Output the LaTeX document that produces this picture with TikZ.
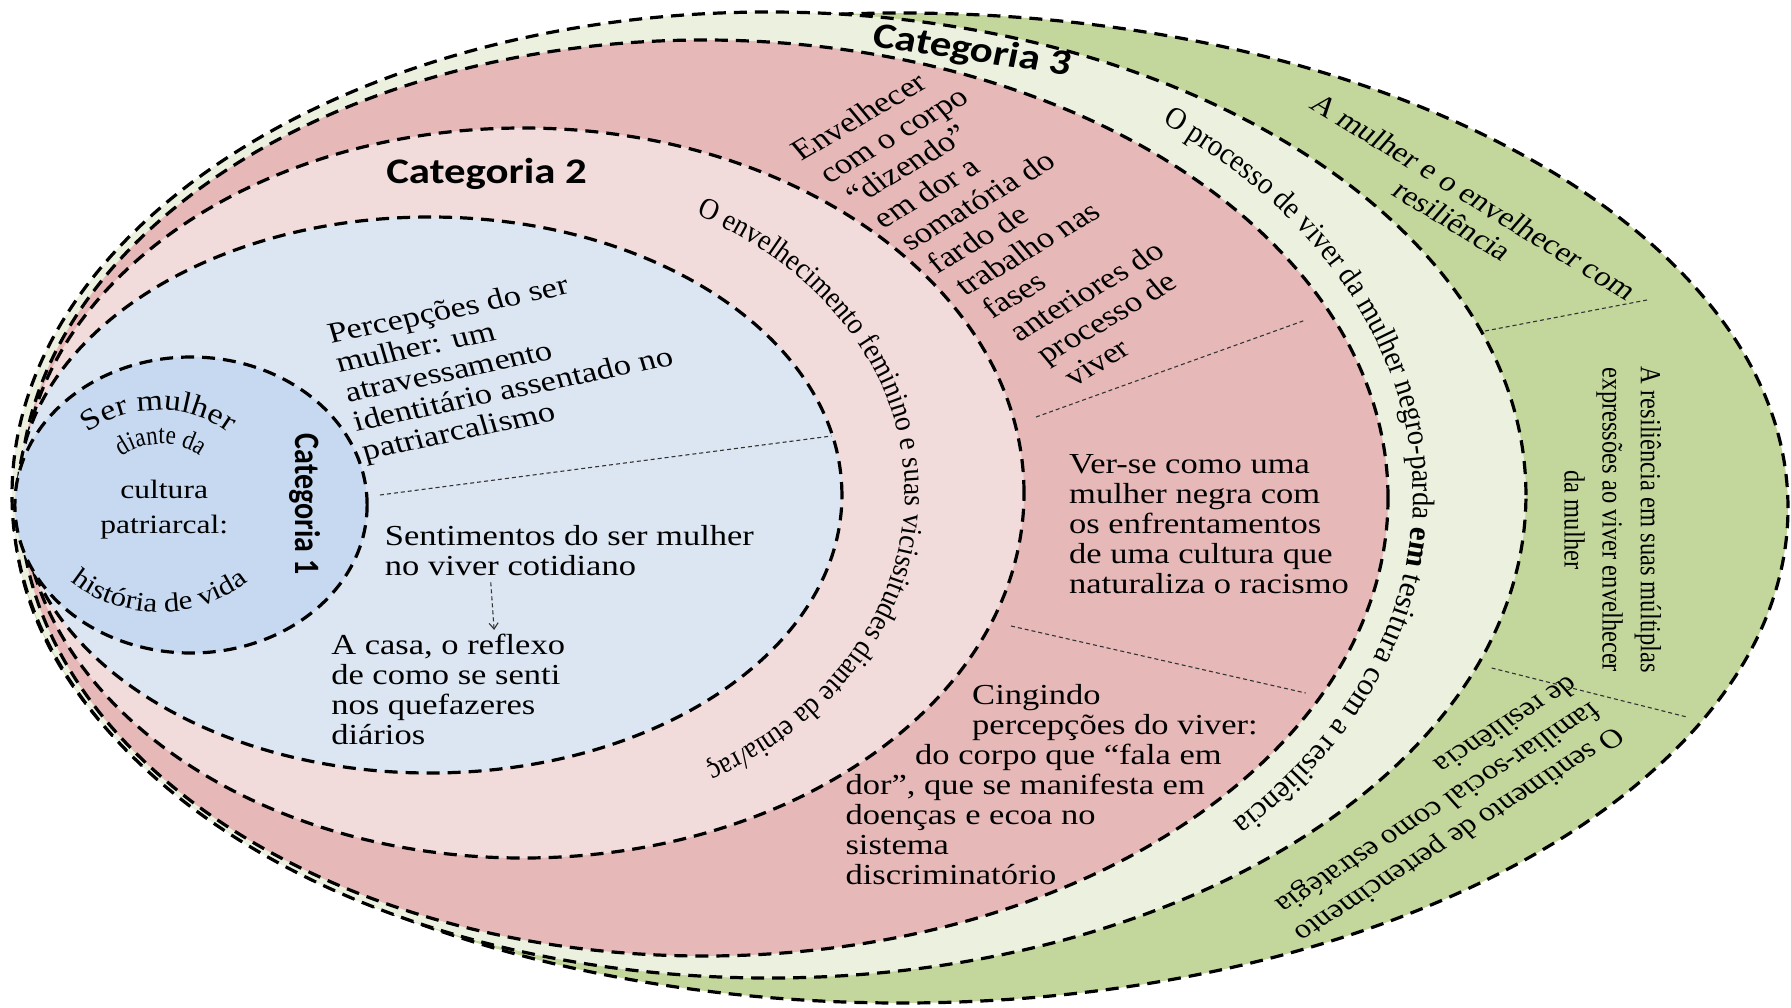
\documentclass[tikz,border=0pt]{standalone}
\usepackage{fontspec}
\setmainfont{Liberation Serif}
\newfontfamily\catf{Carlito}
\newfontfamily\widef[FakeStretch=1.15]{Liberation Serif}
\newfontfamily\narrowf[FakeStretch=0.85]{Liberation Serif}
\newfontfamily\bandf[FakeStretch=0.92]{Liberation Serif}
\usetikzlibrary{decorations.text,calc,arrows.meta}
\definecolor{cgreen}{HTML}{C3D69B}
\definecolor{clgreen}{HTML}{EBF1DE}
\definecolor{cdpink}{HTML}{E6B9B8}
\definecolor{clpink}{HTML}{F2DCDB}
\definecolor{clblue}{HTML}{DCE6F2}
\definecolor{cblue}{HTML}{C6D9F1}
\tikzset{
  bandline/.style={line width=3.2pt, dash pattern=on 13pt off 8pt, draw=black},
  sepline/.style={line width=1.1pt, dash pattern=on 4pt off 3pt, draw=black!80},
  bodytext/.style={font={\fontsize{29}{30}\selectfont}, text=black},
  cattext/.style={font={\catf\bfseries\fontsize{36}{36}\selectfont}, text=black},
}
\begin{document}
\begin{tikzpicture}[x=1pt, y=-1pt, xscale=1.19,
  every node/.append style={transform shape, inner sep=0pt}]
\useasboundingbox (0,0) rectangle (1505.04,1007);

% bands
\filldraw[bandline, fill=cgreen]  (757.1,508) ellipse [x radius=745.4pt, y radius=495pt];
\filldraw[bandline, fill=clgreen] (646.2,495) ellipse [x radius=636.1pt, y radius=483pt];
\filldraw[bandline, fill=cdpink]  (591.6,498) ellipse [x radius=574.8pt, y radius=458pt];
\filldraw[bandline, fill=clpink]  (439.5,493) ellipse [x radius=421pt, y radius=365pt];
\filldraw[bandline, fill=clblue]  (361.3,495) ellipse [x radius=346.2pt, y radius=278pt];
\filldraw[bandline, fill=cblue]   (160.5,505) ellipse [x radius=148pt, y radius=148pt];

% separators
\draw[sepline] (319.3,495) -- (698.7,436);
\draw[sepline] (870.6,417) -- (1097.2,320);
\draw[sepline] (849.6,626) -- (1097.2,693);
\draw[sepline] (1247.9,331) -- (1384,300);
\draw[sepline] (1253.5,668) -- (1417.6,717);

% category titles
\node[cattext] (cat2) at (408.9,173.6) {Categoria 2};
\node[cattext, rotate=-10] (cat3) at (816.8,51.4) {Categoria 3};
\node[cattext, font={\catf\bfseries\fontsize{30}{30}\selectfont}, rotate=-90] (cat1) at (256.3,504) {Categoria 1};

% category 1 circle texts
\node[align=center, font={\fontsize{26.5}{35}\selectfont}] (cult) at (138,509.5) {cultura\\patriarcal:};
\path[decorate, decoration={text along path, text align=center,
  text={|\widef\fontsize{29.5}{29.5}\selectfont|Ser mulher}}]
  (133,498) ++(145:88pt) arc[start angle=145, end angle=35, radius=88pt];
\path[decorate, decoration={text along path, text align=center,
  text={|\narrowf\fontsize{27}{27}\selectfont|diante da}}]
  (135,494) ++(155:50pt) arc[start angle=155, end angle=25, radius=50pt];
\path[decorate, decoration={text along path, text align=center,
  text={|\widef\fontsize{27}{27}\selectfont|história de vida}}]
  (134,505.75) ++(210:106.25pt) arc[start angle=210, end angle=330, radius=106.25pt];

% blue ellipse texts
\node[bodytext, align=left, rotate=14] (percep) at (424.6,362)
  {Percepções do ser\\mulher: um\\atravessamento\\identitário assentado no\\patriarcalismo};
\node[bodytext, align=left] (sent) at (478.5,551)
  {Sentimentos do ser mulher\\no viver cotidiano};
\node[bodytext, align=left] (acasa) at (376.6,689.5)
  {A casa, o reflexo\\de como se senti\\nos quefazeres\\diários};
\draw[sepline, -{Straight Barb[length=6pt,width=9pt]}]
  ($(sent.south west)+(89.1,6)$) -- ($(acasa.north west)+(137,-4)$);

% light pink band curved text
\path[decorate, decoration={text along path, text align=left,
  text={|\bandf\fontsize{30}{30}\selectfont|O envelhecimento feminino e suas vicissitudes diante da etnia/raç}}]
  (439.5,493) ++(63:321pt and 312pt) arc[start angle=63, end angle=-80, x radius=321pt, y radius=312pt];

% dark pink band texts
\node[bodytext, font={\fontsize{29}{31.6}\selectfont}, align=left, rotate=35, anchor=north west] (envel) at (662,145)
  {Envelhecer\\\hspace*{5.8pt}com o corpo\\\hspace*{11.6pt}“dizendo”\\\hspace*{17.4pt}em dor a\\\hspace*{23.2pt}somatória do\\\hspace*{29pt}fardo de\\\hspace*{34.8pt}trabalho nas\\\hspace*{40.6pt}fases\\\hspace*{46.4pt}anteriores do\\\hspace*{52.2pt}processo de\\\hspace*{58pt}viver};
\node[bodytext, align=left] (verse) at (1016,524)
  {Ver-se como uma\\mulher negra com\\os enfrentamentos\\de uma cultura que\\naturaliza o racismo};
\node[bodytext, align=left, anchor=west] (cing) at (710.3,785)
  {\hspace*{106.5pt}Cingindo\\\hspace*{106.5pt}percepções do viver:\\\hspace*{58.5pt}do corpo que “fala em\\dor”, que se manifesta em\\doenças e ecoa no\\sistema\\discriminatório};

% light green band curved text
\path[decorate, decoration={text along path, text align=left,
  text={|\bandf\fontsize{31}{31}\selectfont|O processo de viver da mulher negro-parda |\bfseries\fontsize{31}{31}\selectfont|em|\mdseries\fontsize{31}{31}\selectfont| tesitura com a resiliência}}]
  (618.5,496) ++(51:569pt and 480pt) arc[start angle=51, end angle=-60, x radius=569pt, y radius=480pt];

% green band texts
\node[align=center, rotate=-36, font={\fontsize{28}{30}\selectfont}] (amulher) at (1229.8,208.5)
  {A mulher e o envelhecer com\\resiliência};
\node[align=center, rotate=-90, font={\fontsize{24.5}{32}\selectfont}] (aresil) at (1355.2,520)
  {A resiliência em suas múltiplas\\expressões ao viver envelhecer\\da mulher};
\node[align=left, rotate=-143, font={\fontsize{27}{32}\selectfont}] (osent) at (1207.9,810.2)
  {O sentimento de pertencimento\\familiar-social como estratégia\\de resiliência};
\end{tikzpicture}
\end{document}
